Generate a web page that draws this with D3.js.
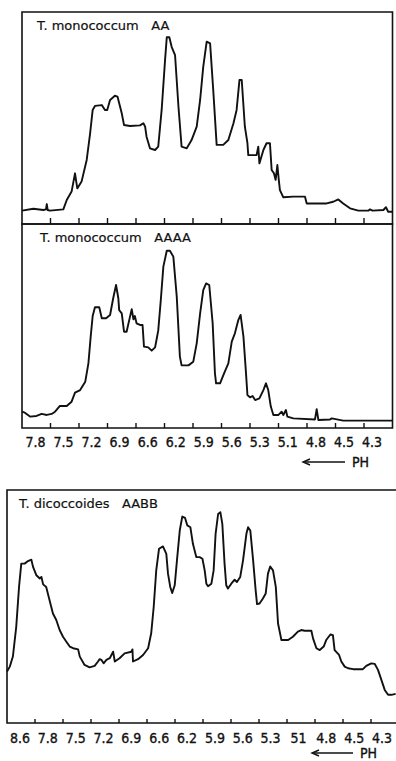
<!DOCTYPE html>
<html>
<head>
<meta charset="utf-8">
<script src="https://cdn.jsdelivr.net/npm/d3@7"></script>
<style>
  body { margin: 0; background: #fff; }
  svg { display: block; }
  .lbl { font-family: 'DejaVu Sans Condensed', 'DejaVu Sans', sans-serif; font-stretch: condensed; font-size: 14px; fill: #111; stroke: #111; stroke-width: 0.35px; }
  .title { font-family: 'DejaVu Sans', sans-serif; font-size: 13px; fill: #111; stroke: #111; stroke-width: 0.2px; white-space: pre; }
</style>
</head>
<body>
<svg id="chart" width="396" height="761"></svg>
<script>
// pH tick labels (upper pair of panels share one axis)
const phLabelsA = ['7.8', '7.5', '7.2', '6.9', '6.6', '6.2', '5.9', '5.6', '5.3', '5.1', '4.8', '4.5', '4.3'];
const phLabelsB = ['8.6', '7.8', '7.5', '7.2', '6.9', '6.6', '6.2', '5.9', '5.6', '5.3', '51', '4.8', '4.5', '4.3'];

// traces: [position along gel (pH segment index), relative absorbance 0-100]
const monoAA = [
  [0, 6.3], [0.4, 7.2], [0.75, 6.6], [0.84, 6.9], [0.87, 9.4], [0.9, 6.6], [0.98, 6.3], [1.45, 6.9],
  [1.57, 11.3], [1.74, 15.3], [1.86, 23.9], [1.94, 16.8], [2.09, 20], [2.27, 30.2], [2.39, 42.8],
  [2.48, 53.8], [2.56, 55.7], [2.8, 56.1], [2.91, 53.8], [2.99, 53.8], [3.09, 58.5], [3.26, 60.5],
  [3.35, 60.1], [3.5, 52.2], [3.58, 46.7], [3.79, 46.2], [4.14, 46.5], [4.26, 47.5], [4.32, 45.9],
  [4.37, 41.2], [4.49, 35.7], [4.67, 34.9], [4.78, 36.5], [4.9, 53.8], [5.02, 77.4], [5.08, 88.1],
  [5.17, 88.1], [5.25, 83.6], [5.37, 79.7], [5.49, 55.3], [5.6, 36.5], [5.78, 35.7], [5.95, 39.6],
  [6.13, 45.9], [6.25, 58.5], [6.36, 74.2], [6.48, 86], [6.6, 85.2], [6.71, 63.2], [6.83, 37.3],
  [7.06, 37.3], [7.24, 39.6], [7.42, 47.5], [7.53, 53.8], [7.63, 67.9], [7.71, 67.9], [7.82, 45.9],
  [7.91, 38.1], [7.94, 32.5], [8.23, 32.5], [8.29, 36.5], [8.33, 28.6], [8.47, 34.9], [8.58, 38.1],
  [8.7, 38.1], [8.76, 25.5], [8.84, 23.9], [8.9, 20.8], [8.96, 27.8], [9.01, 20.8], [9.05, 16],
  [9.17, 12.6], [9.52, 12.9], [9.93, 12.9], [9.99, 9.7], [10.69, 9.7], [10.92, 10.5], [11.1, 11.6],
  [11.27, 9.7], [11.51, 7.4], [11.8, 6.3], [12.15, 6.3], [12.21, 6.9], [12.3, 6.3], [12.68, 6.6],
  [12.77, 7.9], [12.85, 5.8], [13, 5.8]
];

const monoAAAA = [
  [0, 8], [0.1, 7.5], [0.28, 5.6], [0.51, 5.9], [0.69, 6.9], [0.87, 6.4], [1.04, 6.9], [1.16, 8],
  [1.33, 10.8], [1.57, 10.8], [1.74, 12.9], [1.86, 17.3], [2.04, 18.6], [2.22, 22.7], [2.33, 31.7],
  [2.41, 44.8], [2.48, 54.9], [2.56, 59.2], [2.71, 59.2], [2.8, 53.8], [2.95, 53.8], [3.09, 55.4],
  [3.2, 63.6], [3.3, 70.1], [3.38, 63.6], [3.41, 57.8], [3.5, 56.2], [3.58, 47.2], [3.67, 47.2],
  [3.79, 54.6], [3.85, 58.2], [3.91, 53.3], [3.96, 54.9], [4.02, 51.3], [4.14, 50.5], [4.23, 50.5],
  [4.28, 39.9], [4.43, 39.5], [4.55, 37.9], [4.67, 39.5], [4.73, 44], [4.78, 47.7], [4.87, 62.7],
  [4.96, 79.1], [5.08, 86.9], [5.19, 86.9], [5.31, 84], [5.43, 64.4], [5.54, 35], [5.6, 30.7],
  [5.84, 30.7], [6.01, 32.5], [6.13, 41.5], [6.25, 56.2], [6.36, 67.6], [6.46, 70.9], [6.57, 70.1],
  [6.69, 51.3], [6.77, 26.8], [6.81, 21.9], [6.95, 21.9], [7.09, 26.8], [7.24, 31.7], [7.36, 42.3],
  [7.47, 46.4], [7.59, 52.9], [7.67, 55.4], [7.77, 44.8], [7.86, 26.8], [7.91, 16.2], [8, 15],
  [8.09, 15.7], [8.18, 13.7], [8.33, 14.5], [8.47, 18.6], [8.56, 21.9], [8.64, 18.6], [8.73, 10.5],
  [8.82, 6.4], [9, 6.4], [9.11, 8], [9.17, 6.4], [9.26, 8.8], [9.31, 5.6], [9.52, 4.7], [10.28, 4.2],
  [10.34, 9.2], [10.4, 3.9], [10.81, 4.2], [10.87, 4.7], [11.27, 3.6], [13, 3.6]
];

const dicoAABB = [
  [0, 22.1], [0.1, 24.2], [0.21, 28.5], [0.33, 41.3], [0.43, 58.4], [0.51, 68.4], [0.63, 68.4],
  [0.75, 69.5], [0.81, 69.8], [0.87, 70.1], [0.93, 67], [1.05, 63.4], [1.17, 62], [1.23, 62.7],
  [1.29, 59.5], [1.4, 58.4], [1.52, 52.7], [1.64, 47], [1.76, 44.2], [1.88, 39.9], [2, 37],
  [2.12, 34.9], [2.24, 32.8], [2.36, 32.1], [2.54, 31.6], [2.6, 28.5], [2.77, 24.9], [2.95, 23.9],
  [3.13, 24.5], [3.25, 26.4], [3.31, 27.4], [3.37, 27.1], [3.45, 25.6], [3.55, 27.1], [3.67, 27.8],
  [3.79, 30.6], [3.85, 26.4], [4.02, 27.8], [4.2, 29.9], [4.44, 30.6], [4.48, 31.6], [4.5, 26.4],
  [4.68, 27.4], [4.86, 29.2], [5.04, 32.1], [5.15, 38.5], [5.24, 49.9], [5.33, 65.5], [5.43, 74.8],
  [5.57, 75.8], [5.69, 72.6], [5.75, 64.1], [5.83, 58.4], [5.9, 55.8], [5.99, 59.1], [6.07, 69.8],
  [6.17, 82.6], [6.26, 88.6], [6.36, 88], [6.44, 84.8], [6.55, 84], [6.64, 76.9], [6.76, 71.2],
  [6.88, 71.2], [6.98, 70.5], [7.06, 65.5], [7.12, 59.8], [7.18, 58.7], [7.3, 59.8], [7.38, 65.5],
  [7.45, 81.2], [7.54, 89.7], [7.62, 90.5], [7.69, 85.5], [7.77, 68.4], [7.83, 59.1], [7.89, 57.7],
  [8.01, 59.8], [8.13, 61.5], [8.21, 60.5], [8.33, 62.7], [8.43, 69.8], [8.55, 81.2], [8.61, 84],
  [8.69, 82.6], [8.79, 69.8], [8.88, 57], [8.93, 51], [9.02, 51.3], [9.14, 53.4], [9.24, 55.6],
  [9.32, 64.1], [9.4, 67.2], [9.5, 65.5], [9.6, 58.4], [9.68, 42.7], [9.8, 35.6], [10.04, 35.6],
  [10.21, 37], [10.39, 39.2], [10.51, 39.9], [10.63, 39.6], [10.87, 39.6], [10.93, 36.3],
  [11.05, 32.1], [11.17, 31.3], [11.31, 32.8], [11.4, 35.6], [11.55, 38], [11.64, 37.7],
  [11.7, 31.3], [11.86, 29.2], [11.94, 26.4], [12.06, 24.2], [12.18, 23.5], [12.36, 23.1],
  [12.71, 23.1], [12.83, 24.5], [13.01, 25.6], [13.13, 25.4], [13.25, 22.8], [13.37, 18.5],
  [13.49, 14.2], [13.61, 12.1], [13.73, 12.1], [13.88, 12.5]
];

const svg = d3.select('#chart');

const panels = [
  { name: 'T. monococcum   AA', data: monoAA, n: 13, left: 22, right: 392.5, top: 12, bottom: 224, box: true, tick: 6, tx: 37, ty: 30 },
  { name: 'T. monococcum   AAAA', data: monoAAAA, n: 13, left: 22, right: 392.5, top: 224, bottom: 428, box: true, tick: 5, tx: 40, ty: 242 },
  { name: 'T. dicoccoides   AABB', data: dicoAABB, n: 14, left: 7, right: 399, top: 490, bottom: 723, box: false, tick: 4, tx: 19, ty: 508 }
];

panels.forEach(p => {
  const x = d3.scaleLinear().domain([0, p.n]).range([p.left, p.right]);
  const y = d3.scaleLinear().domain([0, 100]).range([p.bottom, p.top]);
  const g = svg.append('g');

  // frame
  const edge = p.box ? p.right : 396;
  g.append('path')
    .attr('d', p.box
      ? `M${p.left},${p.top}H${edge}V${p.bottom}H${p.left}Z`
      : `M${edge},${p.top}H${p.left}V${p.bottom}H${edge}`)
    .attr('fill', 'none')
    .attr('stroke', '#111')
    .attr('stroke-width', 1.6);

  // tick marks at segment boundaries, pointing up into the plot
  g.selectAll('.tk')
    .data(d3.range(1, p.n))
    .enter().append('line')
    .attr('x1', d => x(d)).attr('x2', d => x(d))
    .attr('y1', p.bottom).attr('y2', p.bottom - p.tick)
    .attr('stroke', '#111')
    .attr('stroke-width', 1.4);

  // trace
  const line = d3.line().x(d => x(d[0])).y(d => y(d[1]));
  g.append('path')
    .datum(p.data)
    .attr('d', line)
    .attr('fill', 'none')
    .attr('stroke', '#111')
    .attr('stroke-width', 1.9)
    .attr('stroke-linejoin', 'round');

  g.append('text')
    .attr('class', 'title')
    .attr('x', p.tx).attr('y', p.ty)
    .text(p.name);
});

// pH labels, hand lettered so not quite centred on the segments
function phAxis(labels, range, baseline, arrowY, arrowX) {
  const s = d3.scalePoint().domain(labels.map((d, i) => i)).range(range);
  svg.append('g').selectAll('text')
    .data(labels)
    .enter().append('text')
    .attr('class', 'lbl')
    .attr('x', (d, i) => s(i))
    .attr('y', baseline)
    .attr('text-anchor', 'middle')
    .text(d => d);

  const a = svg.append('g');
  a.append('line')
    .attr('x1', arrowX[0] + 2).attr('x2', arrowX[1])
    .attr('y1', arrowY).attr('y2', arrowY)
    .attr('stroke', '#111').attr('stroke-width', 1.4);
  a.append('path')
    .attr('d', `M${arrowX[0] + 7},${arrowY - 3}L${arrowX[0]},${arrowY}L${arrowX[0] + 7},${arrowY + 3}`)
    .attr('fill', 'none').attr('stroke', '#111').attr('stroke-width', 1.4);
  a.append('text')
    .attr('class', 'lbl')
    .attr('x', arrowX[1] + 7).attr('y', arrowY + 5)
    .text('PH');
}

phAxis(phLabelsA, [35.5, 372], 447, 462, [303, 345]);
phAxis(phLabelsB, [20, 382], 743, 753, [312, 353]);
</script>
</body>
</html>
